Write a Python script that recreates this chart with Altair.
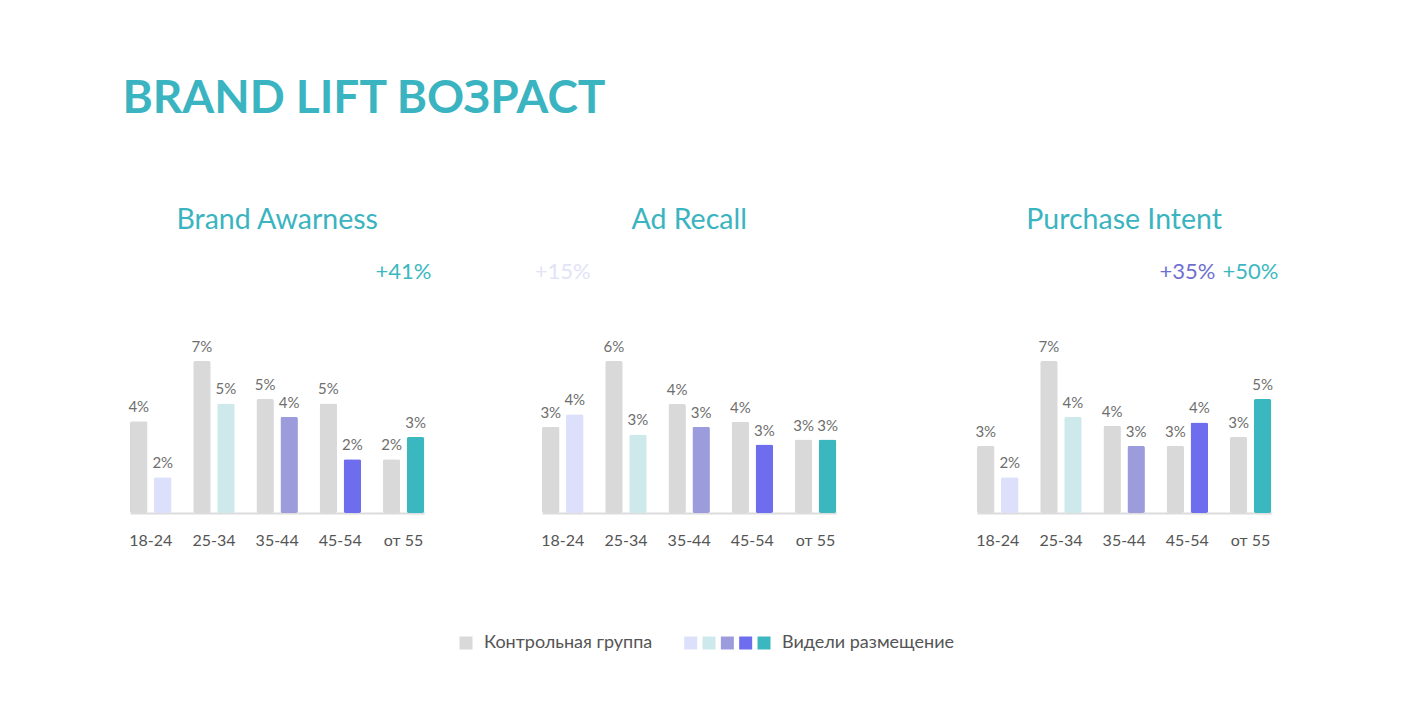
import altair as alt
import pandas as pd

FONT = "Lato"

ages = ["18-24", "25-34", "35-44", "45-54", "от 55"]
groups = ["Контрольная группа", "Видели размещение"]
panels = ["Brand Awarness", "Ad Recall", "Purchase Intent"]

control_ba = [4.1, 6.8, 5.1, 4.9, 2.4]
exposed_ba = [1.6, 4.9, 4.3, 2.4, 3.4]
control_ar = [3.4, 6.0, 4.3, 3.6, 2.9]
exposed_ar = [3.9, 3.1, 3.4, 2.7, 2.9]
control_pi = [3.0, 6.8, 3.9, 3.0, 3.4]
exposed_pi = [1.6, 4.3, 3.0, 4.05, 5.1]

lift_panel = ["Brand Awarness", "Ad Recall", "Purchase Intent", "Purchase Intent"]
lift_age = ["от 55", "18-24", "45-54", "от 55"]
lift_text = ["+41%", "+15%", "+35%", "+50%"]
lift_color = ["#3BB8BF", "#E2E3F6", "#6F6FD0", "#3BB8BF"]

control_color = "#D9D9D9"
age_colors = ["#DDE0FA", "#CDE9EB", "#9C9CDD", "#6D6DEE", "#3BB8BF"]
teal = "#3AB4C0"

color_scale = alt.Scale(domain=["control"] + ages, range=[control_color] + age_colors)

H = 313
BAND = 294.3


def panel(name, ctrl, expo, r0, width):
    rows = []
    for a, c, e in zip(ages, ctrl, expo):
        rows.append({"age": a, "grp": groups[0], "value": c, "key": "control"})
        rows.append({"age": a, "grp": groups[1], "value": e, "key": a})
    df = pd.DataFrame(rows)
    ymax = max(ctrl + expo) * H / 152

    x = alt.X(
        "age:N",
        sort=ages,
        scale=alt.Scale(domain=ages, range=[r0, r0 + BAND], paddingInner=0.343, paddingOuter=0),
        axis=alt.Axis(
            title=None, labelAngle=0, ticks=False, domainColor="#DCDCDC", domainWidth=2,
            labelFontSize=16, labelColor="#555555", labelPadding=19, labelFont=FONT, grid=False,
        ),
    )
    xo = alt.XOffset("grp:N", sort=groups, scale=alt.Scale(domain=groups, paddingInner=0.27, paddingOuter=0))
    y = alt.Y("value:Q", scale=alt.Scale(domain=[0, ymax]), axis=None)

    base = alt.Chart(df).transform_calculate(label="format(datum.value, '.0f') + '%'")
    bars = base.mark_bar(cornerRadius=2).encode(
        x=x, xOffset=xo, y=y,
        color=alt.Color("key:N", scale=color_scale, legend=None),
    )
    labels = base.mark_text(baseline="alphabetic", dy=-9, fontSize=15, font=FONT, color="#6E6E6E").encode(
        x=x, xOffset=xo, y=y, text="label:N"
    )

    ldf = pd.DataFrame({"panel": lift_panel, "age": lift_age, "text": lift_text, "col": lift_color})
    ldf = ldf[ldf["panel"] == name]
    lifts = alt.Chart(ldf).mark_text(fontSize=22, font=FONT, baseline="middle").encode(
        x=x, y=alt.value(72), text="text:N", color=alt.Color("col:N", scale=None)
    )
    sub = alt.Chart(pd.DataFrame({"t": [name]})).mark_text(
        fontSize=28.5, font=FONT, color=teal, baseline="middle", align="center"
    ).encode(text="t:N", x=alt.value(r0 + BAND / 2), y=alt.value(20))

    layers = [bars, labels, sub]
    if len(ldf):
        layers.append(lifts)
    return alt.layer(*layers).properties(width=width, height=H)


p1 = panel(panels[0], control_ba, exposed_ba, 0, 386.6)
p2 = panel(panels[1], control_ar, exposed_ar, 25, 458)
p3 = panel(panels[2], control_pi, exposed_pi, 0, 300)

top = alt.hconcat(p1, p2, p3, spacing=0).resolve_scale(x="independent", y="independent", xOffset="independent")

# legend
sw_df = pd.DataFrame({"age": ages})
swatches = alt.Chart(sw_df).mark_point(shape="square", filled=True, size=169, opacity=1).encode(
    x=alt.X("age:N", sort=ages, scale=alt.Scale(type="point", domain=ages, range=[560.7, 634], padding=0), axis=None),
    y=alt.value(10),
    color=alt.Color("age:N", scale=alt.Scale(domain=ages, range=age_colors), legend=None),
)
ctrl_sw = alt.Chart(pd.DataFrame({"k": [groups[0]]})).mark_point(
    shape="square", filled=True, size=169, opacity=1, color=control_color
).encode(x=alt.value(336), y=alt.value(10))
txt1 = alt.Chart(pd.DataFrame({"t": [groups[0]]})).mark_text(
    align="left", baseline="middle", fontSize=18, font=FONT, color="#555555"
).encode(text="t:N", x=alt.value(354), y=alt.value(10))
txt2 = alt.Chart(pd.DataFrame({"t": [groups[1]]})).mark_text(
    align="left", baseline="middle", fontSize=18, font=FONT, color="#555555"
).encode(text="t:N", x=alt.value(652), y=alt.value(10))
legend = alt.layer(ctrl_sw, swatches, txt1, txt2).properties(width=800, height=20)

chart = alt.vconcat(top, legend, spacing=85).resolve_scale(color="independent").properties(
    title=alt.TitleParams(
        "BRAND LIFT ВОЗРАСТ", anchor="start", fontSize=46, font=FONT, fontWeight="bold",
        color=teal, dx=-6, offset=77,
    ),
    padding={"left": 114, "top": 68, "right": 5, "bottom": 5},
    background="white",
).configure_view(stroke=None)

chart.save("out.html", embed_options={"renderer": "svg", "actions": False})
